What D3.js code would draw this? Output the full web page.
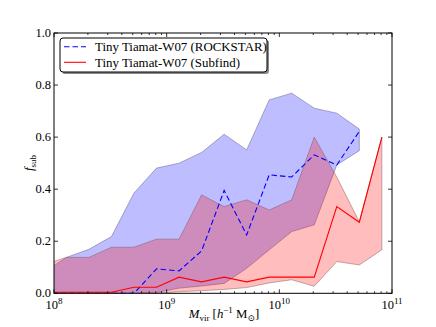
<!DOCTYPE html>
<html><head><meta charset="utf-8">
<script src="https://cdn.jsdelivr.net/npm/d3@7"></script>
<style>
html,body{margin:0;padding:0;background:#fff;}
svg{display:block;font-family:"Liberation Serif","DejaVu Serif",serif;}
</style></head>
<body><svg id="chart" width="436" height="327"></svg>
<script>
// log10 of halo mass bin centres
const logMass = [7.91, 8.11, 8.31, 8.51, 8.71, 8.91, 9.11, 9.31, 9.51, 9.71, 9.91, 10.11, 10.31, 10.51, 10.71, 10.91];
// Tiny Tiamat-W07 (ROCKSTAR) – first 15 bins
const rockstarMedian = [0, 0, 0, 0, 0, 0.094, 0.086, 0.163, 0.395, 0.224, 0.455, 0.447, 0.532, 0.493, 0.622];
const rockstarLow    = [0, 0, 0, 0, 0, 0.003, 0.020, 0.028, 0.038, 0.096, 0.167, 0.237, 0.263, 0.493, 0.548];
const rockstarHigh   = [0.080, 0.138, 0.169, 0.218, 0.385, 0.481, 0.500, 0.541, 0.611, 0.551, 0.743, 0.769, 0.711, 0.692, 0.631];
// Tiny Tiamat-W07 (Subfind) – all 16 bins
const subfindMedian = [0.004, 0.004, 0.004, 0.004, 0.023, 0.023, 0.062, 0.044, 0.062, 0.044, 0.062, 0.062, 0.062, 0.333, 0.273, 0.600];
const subfindLow    = [0, 0, 0, 0, 0, 0, 0.006, 0.010, 0.015, 0.022, 0.040, 0.052, 0.027, 0.122, 0.109, 0.167];
const subfindHigh   = [0.110, 0.138, 0.138, 0.177, 0.177, 0.208, 0.208, 0.378, 0.333, 0.359, 0.320, 0.359, 0.600, 0.446, 0.275, 0.600];
// axes
const xMajorExp = [8, 9, 10, 11];
const yTicks = [0, 0.2, 0.4, 0.6, 0.8, 1.0];
const legendLabels = ["Tiny Tiamat-W07 (ROCKSTAR)", "Tiny Tiamat-W07 (Subfind)"];

const svg = d3.select("#chart");
const L = 54, R = 392, T = 33, B = 293.3;
const x = d3.scaleLog().domain([1e8, 1e11]).range([L, R]);
const y = d3.scaleLinear().domain([0, 1]).range([B, T]);

svg.append("defs").append("clipPath").attr("id", "clip")
  .append("rect").attr("x", L).attr("y", T).attr("width", R - L).attr("height", B - T);

const plot = svg.append("g").attr("clip-path", "url(#clip)");

function bandData(lo, hi) {
  return lo.map((v, i) => ({m: Math.pow(10, logMass[i]), lo: v, hi: hi[i]}));
}
function lineData(vals) {
  return vals.map((v, i) => ({m: Math.pow(10, logMass[i]), v}));
}
const area = d3.area().x(d => x(d.m)).y0(d => y(d.lo)).y1(d => y(d.hi));
const line = d3.line().x(d => x(d.m)).y(d => y(d.v));

plot.append("path").datum(bandData(rockstarLow, rockstarHigh))
  .attr("d", area).attr("fill", "#0000ff").attr("fill-opacity", 0.26)
  .attr("stroke", "#55557a").attr("stroke-opacity", 0.45).attr("stroke-width", 1);
plot.append("path").datum(bandData(subfindLow, subfindHigh))
  .attr("d", area).attr("fill", "#ff0000").attr("fill-opacity", 0.26)
  .attr("stroke", "#7a5555").attr("stroke-opacity", 0.45).attr("stroke-width", 1);

plot.append("path").datum(lineData(rockstarMedian))
  .attr("d", line).attr("fill", "none").attr("stroke", "#0000ff")
  .attr("stroke-width", 1.1).attr("stroke-dasharray", "5.5,3");
plot.append("path").datum(lineData(subfindMedian))
  .attr("d", line).attr("fill", "none").attr("stroke", "#ff0000").attr("stroke-width", 1.1);

// frame
svg.append("rect").attr("x", L).attr("y", T).attr("width", R - L).attr("height", B - T)
  .attr("fill", "none").attr("stroke", "#000").attr("stroke-width", 1);

// ticks
const tg = svg.append("g").attr("stroke", "#000").attr("stroke-width", 0.8);
const minor = [];
for (let e = 8; e < 11; e++) for (let k = 2; k <= 9; k++) minor.push(k * Math.pow(10, e));
xMajorExp.forEach(e => {
  const xx = x(Math.pow(10, e));
  tg.append("line").attr("x1", xx).attr("x2", xx).attr("y1", B).attr("y2", B - 4);
  tg.append("line").attr("x1", xx).attr("x2", xx).attr("y1", T).attr("y2", T + 4);
});
minor.forEach(m => {
  const xx = x(m);
  tg.append("line").attr("x1", xx).attr("x2", xx).attr("y1", B).attr("y2", B - 2);
  tg.append("line").attr("x1", xx).attr("x2", xx).attr("y1", T).attr("y2", T + 2);
});
yTicks.forEach(v => {
  const yy = y(v);
  tg.append("line").attr("x1", L).attr("x2", L + 4).attr("y1", yy).attr("y2", yy);
  tg.append("line").attr("x1", R).attr("x2", R - 4).attr("y1", yy).attr("y2", yy);
});

// tick labels
const fs = 12.5;
yTicks.forEach(v => {
  svg.append("text").attr("x", L - 3).attr("y", y(v) + 4).attr("text-anchor", "end")
    .attr("font-size", fs).text(d3.format(".1f")(v));
});
xMajorExp.forEach(e => {
  const t = svg.append("text").attr("x", x(Math.pow(10, e))).attr("y", B + 15.5)
    .attr("text-anchor", "middle").attr("font-size", fs);
  t.append("tspan").text("10");
  t.append("tspan").attr("dy", -5).attr("font-size", 9).text(e);
});

// axis labels
const xl = svg.append("text").attr("x", 224).attr("y", 318).attr("text-anchor", "middle").attr("font-size", 12.8);
xl.append("tspan").attr("font-style", "italic").text("M");
xl.append("tspan").attr("dy", 3).attr("font-size", 9).text("vir");
xl.append("tspan").attr("dy", -3).text(" [");
xl.append("tspan").attr("font-style", "italic").text("h");
xl.append("tspan").attr("dy", -5).attr("font-size", 9).text("\u22121");
xl.append("tspan").attr("dy", 5).text(" M");
xl.append("tspan").attr("dy", 3).attr("font-size", 9).text("\u2299");
xl.append("tspan").attr("dy", -3).text("]");

const yl = svg.append("text").attr("transform", "translate(33,163) rotate(-90)")
  .attr("text-anchor", "middle").attr("font-size", 12.8);
yl.append("tspan").attr("font-style", "italic").text("f");
yl.append("tspan").attr("dy", 3).attr("font-size", 9).text("sub");

// legend
const lg = svg.append("g");
lg.append("rect").attr("x", 62).attr("y", 40).attr("width", 207).attr("height", 34)
  .attr("rx", 3).attr("fill", "#888");
lg.append("rect").attr("x", 60).attr("y", 38).attr("width", 207).attr("height", 34)
  .attr("rx", 3).attr("fill", "#fff").attr("stroke", "#000").attr("stroke-width", 1);
const styles = [{c: "#0000ff", d: "5.5,3"}, {c: "#ff0000", d: null}];
legendLabels.forEach((lab, i) => {
  const yy = 46.7 + i * 15.6;
  const ln = lg.append("line").attr("x1", 64).attr("x2", 86).attr("y1", yy).attr("y2", yy)
    .attr("stroke", styles[i].c).attr("stroke-width", 1.1);
  if (styles[i].d) ln.attr("stroke-dasharray", styles[i].d);
  lg.append("text").attr("x", 95).attr("y", yy + 4.3).attr("font-size", 12.9).text(lab);
});
</script></body></html>
